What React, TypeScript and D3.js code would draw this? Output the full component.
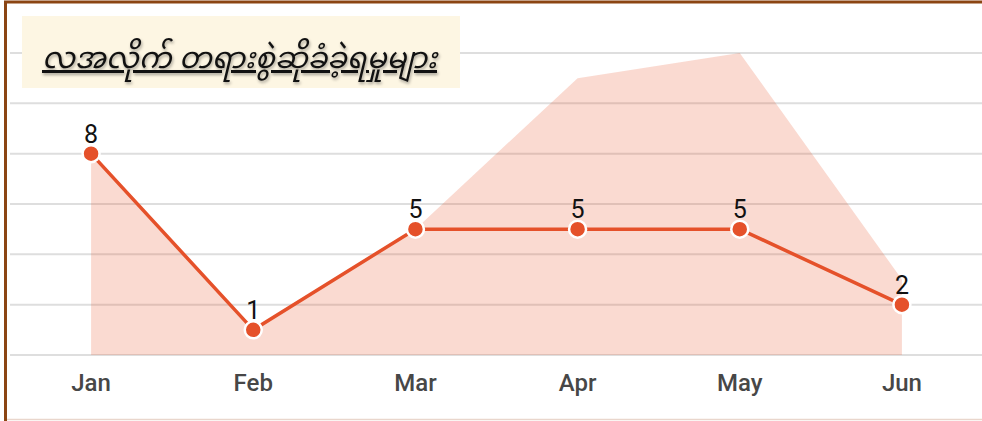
import { useRef, useEffect } from "react";
import * as d3 from "d3";

const months = ["Jan", "Feb", "Mar", "Apr", "May", "Jun"];
const caseCounts = [8, 1, 5, 5, 5, 2];
const areaCounts = [8, 1, 5, 11, 12, 3];
const yTicks = [0, 2, 4, 6, 8, 10, 12];
const title = "လအလိုက် တရားစွဲဆိုခံခဲ့ရမှုများ";

export default function App() {
  const ref = useRef<SVGSVGElement>(null);
  const width = 982;
  const height = 421;

  useEffect(() => {
    if (!ref.current) return;
    const svg = d3.select(ref.current);
    svg.selectAll("*").remove();

    const x = d3.scalePoint().domain(months).range([10, 983]).padding(0.5);
    const y = d3.scaleLinear().domain([0, 12]).range([355, 53]);

    // frame
    svg.append("rect").attr("width", width).attr("height", height).attr("fill", "#fff");
    svg.append("line").attr("x1", 5.5).attr("x2", 5.5).attr("y1", 1).attr("y2", height)
      .attr("stroke", "#8b4513").attr("stroke-width", 3);
    svg.append("line").attr("x1", 4).attr("x2", width).attr("y1", 2).attr("y2", 2)
      .attr("stroke", "#8b4513").attr("stroke-width", 3);
    svg.append("line").attr("x1", 7).attr("x2", width).attr("y1", 419.5).attr("y2", 419.5)
      .attr("stroke", "#e9d6cc").attr("stroke-width", 1.5);

    // grid
    svg.append("g").selectAll("line").data(yTicks).enter().append("line")
      .attr("x1", 10).attr("x2", width)
      .attr("y1", d => y(d)).attr("y2", d => y(d))
      .attr("stroke", "#dedede").attr("stroke-width", 2);

    // area
    const area = d3.area<number>()
      .x((_, i) => x(months[i])!)
      .y0(y(0))
      .y1(d => y(d));
    svg.append("path").datum(areaCounts).attr("d", area)
      .attr("fill", "rgba(232,80,40,0.21)");

    // line
    const line = d3.line<number>()
      .x((_, i) => x(months[i])!)
      .y(d => y(d));
    svg.append("path").datum(caseCounts).attr("d", line)
      .attr("fill", "none").attr("stroke", "#e5512a").attr("stroke-width", 3.5);

    svg.append("g").selectAll("circle").data(caseCounts).enter().append("circle")
      .attr("cx", (_, i) => x(months[i])!).attr("cy", d => y(d)).attr("r", 8.5)
      .attr("fill", "#e5512a").attr("stroke", "#fff").attr("stroke-width", 2.5);

    svg.append("g").selectAll("text").data(caseCounts).enter().append("text")
      .attr("x", (_, i) => x(months[i])!).attr("y", d => y(d) - 11)
      .attr("text-anchor", "middle").attr("font-family", "Roboto, sans-serif")
      .attr("font-size", 25).attr("fill", "#111").text(d => d);

    // x axis labels
    svg.append("g").selectAll("text").data(months).enter().append("text")
      .attr("x", d => x(d)!).attr("y", 391)
      .attr("text-anchor", "middle").attr("font-family", "Roboto, sans-serif")
      .attr("font-weight", 500).attr("font-size", 24).attr("fill", "#474747").text(d => d);

    // title box
    svg.append("rect").attr("x", 22).attr("y", 16).attr("width", 438).attr("height", 72)
      .attr("fill", "#fdf6e3");
    svg.append("text").attr("x", 42).attr("y", 68)
      .attr("font-family", "'Noto Sans Myanmar', 'Padauk', 'Myanmar Text', sans-serif")
      .attr("font-style", "italic").attr("font-size", 30).attr("fill", "#111")
      .attr("text-decoration", "underline")
      .attr("textLength", 395).attr("lengthAdjust", "spacingAndGlyphs")
      .style("filter", "drop-shadow(1px 2px 1.5px rgba(0,0,0,0.35))")
      .text(title);
  }, []);

  return (
    <svg ref={ref} width={width} height={height}
      style={{ position: "absolute", left: 0, top: 0, display: "block" }} />
  );
}
